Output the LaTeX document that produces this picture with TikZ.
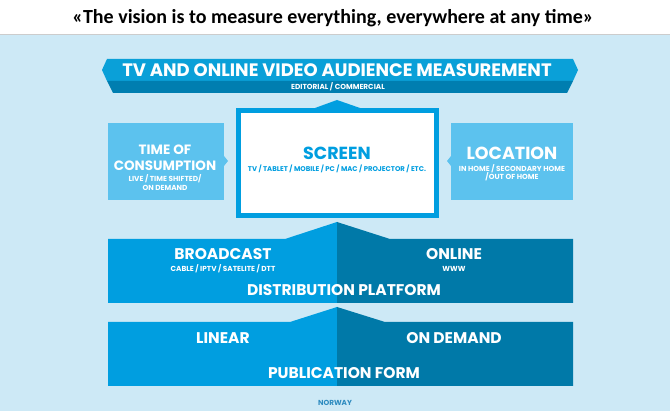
\documentclass[tikz,border=0pt]{standalone}
\usepackage{fontspec}
\setmainfont{Poppins}
\newfontfamily\titlefont{Carlito}
\usepackage{xcolor}
\definecolor{bgblue}{HTML}{CDE9F6}
\definecolor{lightbox}{HTML}{5CC2EE}
\definecolor{midblue}{HTML}{009EE0}
\definecolor{darkblue}{HTML}{0079A8}
\definecolor{bantop}{HTML}{0AA0D8}
\definecolor{banbot}{HTML}{007EB0}
\definecolor{normark}{HTML}{2F8CC0}

\begin{document}
\begin{tikzpicture}[x=1pt, y=-1pt]
        % ================= styles =================
        \tikzset{
            % big white caps
            bigtxt/.style={text=white, font=\bfseries\fontsize{15.5}{15.5}\selectfont, inner sep=0pt, anchor=base},
            % small white caps under a heading
            smalltxt/.style={text=white, font=\bfseries\fontsize{7.3}{7.3}\selectfont, inner sep=0pt, anchor=base},
            % side boxes
            sidebox/.style={fill=lightbox, draw=none},
            left_half/.style={fill=midblue, draw=none},
            right_half/.style={fill=darkblue, draw=none}
        }
        \useasboundingbox (0,0) rectangle (670,411);

        % ================= background and title =================
        \fill[bgblue] (0,35) rectangle (670,411);
        \fill[white] (0,0) rectangle (670,35);
        \draw[black!20, line width=1pt] (0,35) -- (670,35);
        \node[font=\titlefont\bfseries\fontsize{20}{20}\selectfont, anchor=base] (title) at (333,24)
            {«The vision is to measure everything, everywhere at any time»};

        % ================= banner =================
        \fill[bantop] (107,59) -- (573,59) -- (578,70) -- (573,81) -- (107,81) -- (102,70) -- cycle;
        \fill[banbot] (107,81) -- (573,81) -- (567,93) -- (113,93) -- cycle;
        \node[bigtxt, font=\bfseries\fontsize{18}{18}\selectfont] (measure) at (337,76.5)
            {TV AND ONLINE VIDEO AUDIENCE MEASUREMENT};
        \node[smalltxt] (editorial) at (338,89.5)
            {EDITORIAL / COMMERCIAL};

        % ================= screen =================
        \fill[midblue] (315,108) -- (337,100) -- (360,108) -- cycle;
        \fill[midblue] (236,108) rectangle (439,218);
        \fill[white] (241,113) rectangle (434,213);
        \node[bigtxt, text=midblue, font=\bfseries\fontsize{17.5}{17.5}\selectfont] (screen) at (337,160) {SCREEN};
        \node[smalltxt, text=midblue, font=\bfseries\fontsize{6.9}{6.9}\selectfont] (devices) at (337,171.5)
            {TV / TABLET / MOBILE / PC / MAC / PROJECTOR / ETC.};

        % ================= time of consumption =================
        \fill[sidebox] (108,123) rectangle (224,200);
        \fill[sidebox] (224,156) -- (228,161) -- (224,166) -- cycle;
        \node[bigtxt, font=\bfseries\fontsize{13.5}{13.5}\selectfont] (timeof) at (165,154.5) {TIME OF};
        \node[bigtxt, font=\bfseries\fontsize{13.5}{13.5}\selectfont] (consumption) at (165,171) {CONSUMPTION};
        \node[smalltxt] (live) at (165,181.5) {LIVE / TIME SHIFTED/};
        \node[smalltxt] (ondemand1) at (165,191) {ON DEMAND};

        % ================= location =================
        \fill[sidebox] (451,123) rectangle (573,200);
        \fill[sidebox] (451,156) -- (447,161) -- (451,166) -- cycle;
        \node[bigtxt, font=\bfseries\fontsize{17.5}{17.5}\selectfont] (location) at (512,160) {LOCATION};
        \node[smalltxt] (inhome) at (512,171.5) {IN HOME / SECONDARY HOME};
        \node[smalltxt] (outhome) at (512,180) {/OUT OF HOME};

        % ================= distribution platform =================
        \fill[left_half] (108,239) -- (285,239) -- (337,222) -- (337,303) -- (108,303) -- cycle;
        \fill[right_half] (337,222) -- (390,239) -- (573,239) -- (573,303) -- (337,303) -- cycle;
        \node[bigtxt] (broadcast) at (223,259.5) {BROADCAST};
        \node[smalltxt] (cable) at (223,272) {CABLE / IPTV / SATELITE / DTT};
        \node[bigtxt] (online) at (454,259.5) {ONLINE};
        \node[smalltxt] (www) at (454,272) {WWW};
        \node[bigtxt] (distribution) at (344,295.5) {DISTRIBUTION PLATFORM};

        % ================= publication form =================
        \fill[left_half] (108,322) -- (290,322) -- (337,307) -- (337,386) -- (108,386) -- cycle;
        \fill[right_half] (337,307) -- (385,322) -- (573,322) -- (573,386) -- (337,386) -- cycle;
        \node[bigtxt] (linear) at (223,343.5) {LINEAR};
        \node[bigtxt] (ondemand2) at (454,343.5) {ON DEMAND};
        \node[bigtxt] (publication) at (344,378.5) {PUBLICATION FORM};

        \node[smalltxt, text=normark] (norway) at (335,406) {NORWAY};

    \end{tikzpicture}
\end{document}
